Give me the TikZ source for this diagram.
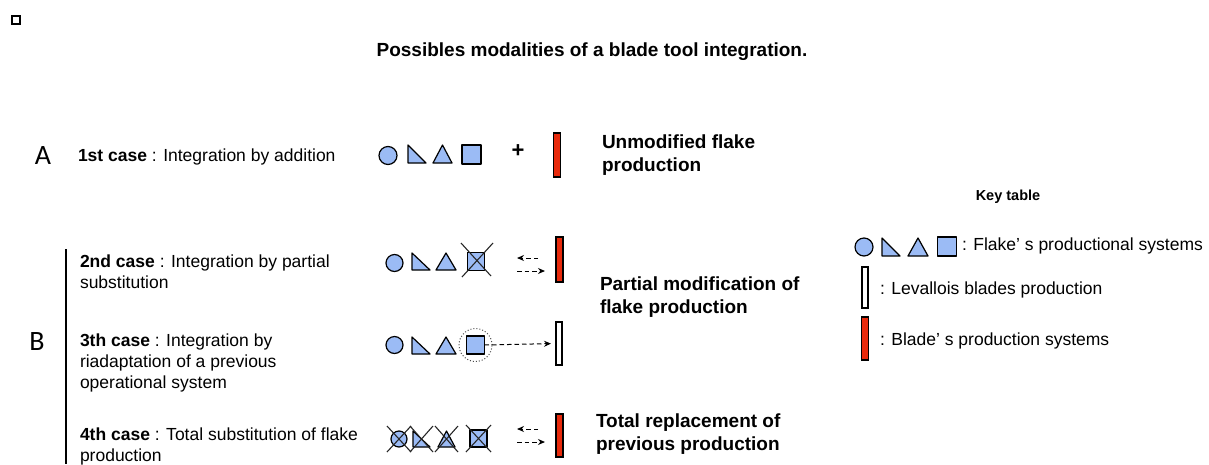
\documentclass[tikz,border=0pt]{standalone}
\usepackage{fontspec}
\setmainfont{Liberation Sans}
\newfontfamily\casefont{Carlito}
\usepackage{tikz}
\usetikzlibrary{positioning}
\usetikzlibrary{arrows,arrows.meta}
\definecolor{flakeblue}{RGB}{155,187,245}
\definecolor{bladered}{RGB}{232,42,12}
\tikzset{>={Stealth[length=7pt,width=6pt]}}

\begin{document}
\begin{tikzpicture}[x=1pt, y=-1pt, inner sep=0pt, outer sep=0pt,
  flake/.style={draw, fill=flakeblue, line width=1.2pt, line join=round},
  sq/.style={flake, rectangle, minimum size=#1},
  redbar/.style={draw, fill=bladered, line width=1.2pt, minimum width=7pt, minimum height=#1},
  whitebar/.style={draw, fill=white, line width=1.2pt, minimum width=6pt, minimum height=#1},
  crossline/.style={line width=1.1pt, draw=black!85},
  dasharrow/.style={->, line width=1pt, dash pattern=on 4.5pt off 3pt},
  casetext/.style={anchor=west, align=left, font=\fontsize{17.5}{21}\selectfont},
  resulttext/.style={anchor=west, align=left, font=\bfseries\fontsize{19}{23}\selectfont},
  keytext/.style={anchor=west, font=\fontsize{17.5}{21}\selectfont},
  caseletter/.style={font=\casefont\fontsize{28}{32}\selectfont}]
\useasboundingbox (0, 0) rectangle (1209, 464);
\draw[line width=2pt] (12, 16) rectangle (20, 24);
\node[font=\bfseries\fontsize{19}{23}\selectfont] (title) at (592, 52) {Possibles modalities of a blade tool integration.};
\node[caseletter] (A) at (43, 156) {A};
\node[caseletter] (B) at (37, 342) {B};
\draw[line width=2.5pt] (66, 249) -- (66, 464);
\node[casetext] (case1) at (78, 157) {\textbf{1st case} : Integration by addition};
\node[casetext] (case2) at (80, 272) {\textbf{2nd case} : Integration by partial\\substitution};
\node[casetext] (case3) at (80, 363) {\textbf{3th case} : Integration by\\riadaptation of a previous\\operational system};
\node[casetext] (case4) at (80, 446) {\textbf{4th case} : Total substitution of flake\\production};
\filldraw[flake] (388, 155.5) circle (9pt);
\filldraw[flake] (408, 145) -- (408, 163) -- (426, 163) -- cycle;
\filldraw[flake] (433, 163) -- (442.5, 145) -- (452, 163) -- cycle;
\node[sq=19pt] (sq1) at (471.5, 154.5) {};
\node[font=\bfseries\fontsize{22}{26}\selectfont] (plus) at (518, 151) {+};
\node[redbar=44pt] (bar1) at (557, 155) {};
\node[resulttext] (res1) at (602, 155) {Unmodified flake\\production};
\filldraw[flake] (394.5, 263) circle (8.5pt);
\filldraw[flake] (412, 253) -- (412, 270) -- (430, 270) -- cycle;
\filldraw[flake] (436, 270) -- (446, 253) -- (456, 270) -- cycle;
\node[sq=17.5pt] (sq2) at (476, 261.5) {};
\draw[crossline] (461, 243) -- (491, 276);
\draw[crossline] (493, 243) -- (462, 277);
\coordinate (l2a) at (538, 258);
\coordinate (l2b) at (517, 258);
\coordinate (r2a) at (517, 271);
\coordinate (r2b) at (545, 271);
\draw[dasharrow] (l2a) -- (l2b);
\draw[dasharrow] (r2a) -- (r2b);
\node[redbar=45pt] (bar2) at (559.5, 259.5) {};
\node[resulttext] (res2) at (600, 297) {Partial modification of\\flake production};
\filldraw[flake] (394.5, 345) circle (8.5pt);
\filldraw[flake] (412, 337) -- (412, 354) -- (430, 354) -- cycle;
\filldraw[flake] (436, 354) -- (446, 337) -- (456, 354) -- cycle;
\node[sq=18pt] (sq3) at (475.5, 345) {};
\node[circle, draw=black!70, dotted, line width=1pt, minimum size=33pt] (ring3) at (sq3) {};
\node[whitebar=43pt] (bar3) at (559, 343.5) {};
\draw[dasharrow, shorten >=5pt] (sq3.east) -- (bar3.west);
\filldraw[flake] (399, 439) circle (8pt);
\filldraw[flake] (413, 431) -- (413, 447) -- (430, 447) -- cycle;
\filldraw[flake] (438, 447) -- (446.5, 431) -- (455, 447) -- cycle;
\node[sq=17pt] (sq4) at (478.5, 438.5) {};
\draw[crossline] (387, 426) -- (411, 452);
\draw[crossline] (411, 426) -- (387, 452);
\draw[crossline] (410, 426) -- (433, 452);
\draw[crossline] (433, 426) -- (410, 452);
\draw[crossline] (435, 426) -- (458, 452);
\draw[crossline] (458, 426) -- (435, 452);
\draw[crossline] (466, 425) -- (491, 452);
\draw[crossline] (491, 425) -- (466, 452);
\coordinate (l4a) at (538, 429);
\coordinate (l4b) at (517, 429);
\coordinate (r4a) at (517, 442);
\coordinate (r4b) at (545, 442);
\draw[dasharrow] (l4a) -- (l4b);
\draw[dasharrow] (r4a) -- (r4b);
\node[redbar=43pt] (bar4) at (559.5, 435.5) {};
\node[resulttext] (res4) at (596, 434.5) {Total replacement of\\previous production};
\node[font=\bfseries\fontsize{14.5}{17}\selectfont] (key) at (1008, 197) {Key table};
\filldraw[flake] (864, 247) circle (9pt);
\filldraw[flake] (882, 238) -- (882, 256) -- (900, 256) -- cycle;
\filldraw[flake] (908, 256) -- (918, 238) -- (928, 256) -- cycle;
\node[sq=19pt] (keysq) at (947, 246.5) {};
\node[keytext] (key1) at (962, 246) {: Flake’ s productional systems};
\node[whitebar=41pt] (keybar2) at (865, 287.5) {};
\node[keytext] (key2) at (880, 290) {: Levallois blades production};
\node[redbar=43pt] (keybar3) at (865, 338.5) {};
\node[keytext] (key3) at (880, 341) {: Blade’ s production systems};
\end{tikzpicture}
\end{document}
